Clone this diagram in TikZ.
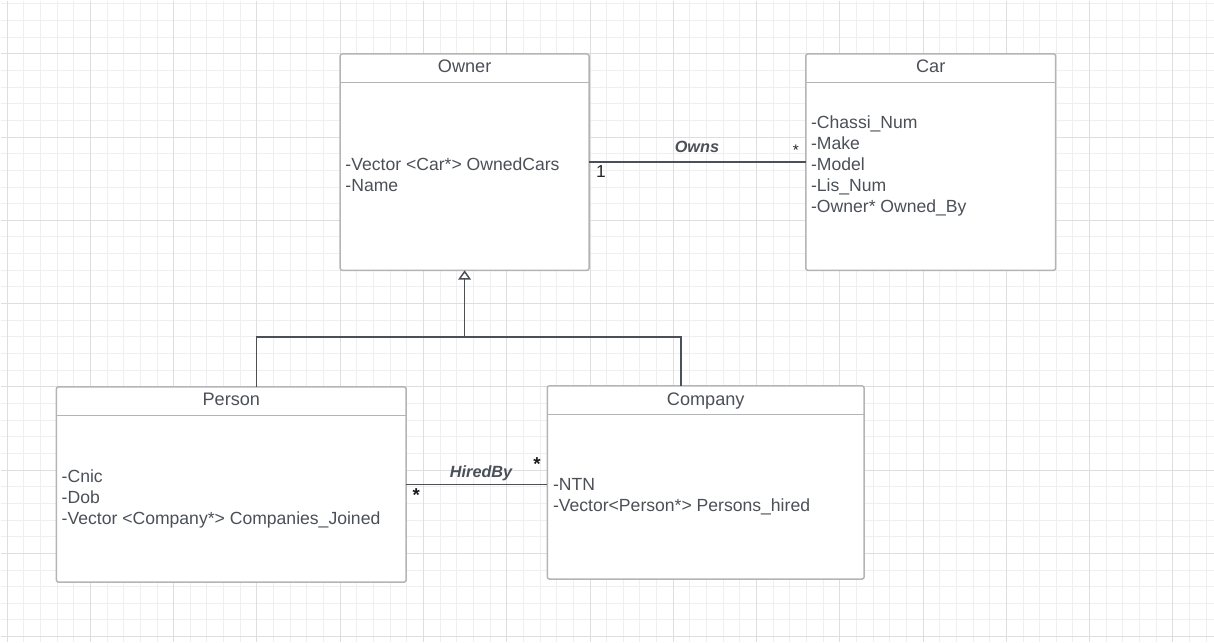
\documentclass[tikz,border=0pt]{standalone}
\usepackage{fontspec}
\setmainfont{Liberation Sans}
\usetikzlibrary{arrows.meta,calc,fit}
\definecolor{txt}{HTML}{4B5058}
\definecolor{bord}{HTML}{B4B4B4}
\definecolor{conn}{HTML}{4B5058}
\definecolor{gminor}{HTML}{EFEFEF}
\definecolor{gmajor}{HTML}{DEDEDE}
\begin{document}
\begin{tikzpicture}[x=0.75pt,y=-0.75pt,
  umlbox/.style={draw=bord, line width=1.1pt, rounded corners=1.5pt, fill=white, inner sep=0pt, outer sep=0pt},
  boxline/.style={draw=bord, line width=1.1pt},
  umltitle/.style={anchor=base, text=txt, inner sep=0pt, font=\fontsize{13.6}{16}\selectfont},
  attrs/.style={anchor=base west, align=left, text=txt, inner sep=0pt, font=\fontsize{13.2}{15.75}\selectfont},
  assoc/.style={draw=conn, line width=1.1pt},
  rolelabel/.style={anchor=base, inner sep=0pt, text=txt, font=\bfseries\itshape\fontsize{12.2}{14}\selectfont},
  multsmall/.style={anchor=base, inner sep=0pt, text=black!85, font=\fontsize{11.5}{13}\selectfont},
  multone/.style={anchor=base, inner sep=0pt, text=black!85, font=\fontsize{13}{15}\selectfont},
  multbig/.style={anchor=base, inner sep=0pt, text=black!90, font=\bfseries\fontsize{14}{16}\selectfont},
  gridminor/.style={draw=gminor, line width=0.75pt},
  gridmajor/.style={draw=gmajor, line width=0.75pt}
]
% background and grid
\fill[white] (0,0) rectangle (1214,642);
\foreach \i in {0,...,72} \draw[gridminor] ({6.667+\i*16.6667},0) -- ({6.667+\i*16.6667},642);
\foreach \j in {0,...,38} \draw[gridminor] (0,{3.333+\j*16.6667}) -- (1214,{3.333+\j*16.6667});
\foreach \i in {0,...,14} \draw[gridmajor] ({6.667+\i*83.333},0) -- ({6.667+\i*83.333},642);
\foreach \j in {0,...,7} \draw[gridmajor] (0,{53.333+\j*83.333}) -- (1214,{53.333+\j*83.333});

% classes
\node[umlbox, fit={(340,53.5) (589,270)}] (owner) {};
\node[umlbox, fit={(806,53.5) (1056,270)}] (car) {};
\node[umlbox, fit={(56,386.7) (406,582)}] (person) {};
\node[umlbox, fit={(547.3,385.7) (864.3,579)}] (company) {};

\draw[boxline] ($(owner.north west)+(0,28.8)$) -- ($(owner.north east)+(0,28.8)$);
\draw[boxline] ($(car.north west)+(0,28.8)$) -- ($(car.north east)+(0,28.8)$);
\draw[boxline] ($(person.north west)+(0,28.5)$) -- ($(person.north east)+(0,28.5)$);
\draw[boxline] ($(company.north west)+(0,28.5)$) -- ($(company.north east)+(0,28.5)$);

\node[umltitle] (ownerT) at ($(owner.north)+(0,18.9)$) {Owner};
\node[umltitle] (carT) at ($(car.north)+(0,18.9)$) {Car};
\node[umltitle] (personT) at ($(person.north)+(0,19)$) {Person};
\node[umltitle] (companyT) at ($(company.north)+(0,19.3)$) {Company};

% anchors at the baseline of the last line
\node[attrs] (ownerA) at (345,190.7) {-Vector <Car*> OwnedCars\\-Name};
\node[attrs] (carA) at (811,211.7) {-Chassi\_Num\\-Make\\-Model\\-Lis\_Num\\-Owner* Owned\_By};
\node[attrs] (personA) at (61,524) {-Cnic\\-Dob\\-Vector <Company*> Companies\_Joined};
\node[attrs] (companyA) at (552.7,511) {-NTN\\-Vector<Person*> Persons\_hired};

% association Owner -- Car
\draw[assoc] (owner.east) -- (car.west);
\node[rolelabel] (ownsL) at (697,152.3) {Owns};
\node[multone] (ownsM1) at (601,177) {1};
\node[multsmall] (ownsM2) at (796,155) {*};

% association Person -- Company
\draw[assoc] (person.east) -- (person.east -| company.west);
\node[rolelabel] (hiredL) at (481,477.3) {HiredBy};
\node[multbig] (hiredM1) at (537,470.5) {*};
\node[multbig] (hiredM2) at (416,501) {*};

% generalization
\coordinate (junc) at (464.5,336.7);
\draw[assoc, -{Triangle[width=9.5pt,length=7pt,fill=white]}] (junc) -- (owner.south);
\draw[assoc] ($(person.north west)+(200,0)$) |- (junc) -| ($(company.north west)+(133.7,0)$);
\end{tikzpicture}
\end{document}
